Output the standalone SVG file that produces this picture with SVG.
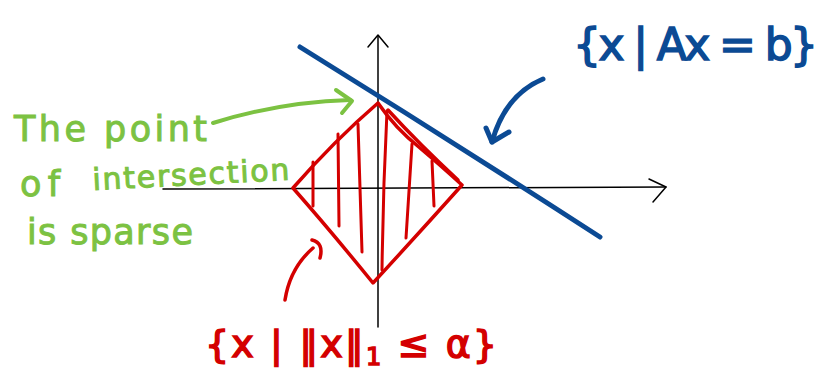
<svg xmlns="http://www.w3.org/2000/svg" width="823" height="371" viewBox="0 0 823 371">
<style>
.axis{fill:none;stroke:#000;stroke-width:1.5;stroke-linecap:round;stroke-linejoin:round}
.red{fill:none;stroke:#d40000;stroke-width:3.5;stroke-linecap:round;stroke-linejoin:round}
.hatch{fill:none;stroke:#d40000;stroke-width:3;stroke-linecap:round}
.blue{fill:none;stroke:#0b4a94;stroke-width:5;stroke-linecap:round;stroke-linejoin:round}
.green{fill:none;stroke:#7cc242;stroke-width:4;stroke-linecap:round;stroke-linejoin:round}
.gtxt{font-family:"DejaVu Sans",sans-serif;fill:#7cc242;stroke:#7cc242;stroke-width:1;font-size:35px}
.btxt{font-family:"DejaVu Sans",sans-serif;fill:#0b4a94;stroke:#0b4a94;stroke-width:1.5;font-size:44px}
.rtxt{font-family:"DejaVu Sans",sans-serif;fill:#d40000;stroke:#d40000;stroke-width:1.5;font-size:38px}
</style>
<g id="axes">
  <path class="axis" d="M163,189 L666,187"/>
  <path class="axis" d="M649,179 L666,187 L653,202"/>
  <path class="axis" d="M378,327 L378,36"/>
  <path class="axis" d="M368,47 L378,35 L388,47"/>
</g>
<g id="l1-ball">
  <path class="red" d="M378,103 Q335,140 293,188 Q330,230 373,283 Q420,232 462,185 Q440,165 420,148 Q395,128 378,103 Z"/>
  <path class="red" d="M388,110 Q420,145 458,180" stroke-width="1.2"/>
  <path class="hatch" d="M313,162 L313,206"/>
  <path class="hatch" d="M338,134 L339,226"/>
  <path class="hatch" d="M358,124 L362,252"/>
  <path class="hatch" d="M387,111 Q383,190 382,270"/>
  <path class="hatch" d="M412,144 L406,238"/>
  <path class="hatch" d="M432,161 L434,206"/>
</g>
<g id="hyperplane">
  <path class="blue" d="M300,47 Q450,140 600,237"/>
</g>
<g id="connectors">
  <path class="green" d="M213,123 Q280,102 350,100"/>
  <path class="green" d="M336,90 L352,101 L342,113"/>
  <path class="blue" d="M543,79 Q505,95 492,142"/>
  <path class="blue" d="M486,128 L492,142 L509,132"/>
  <path class="red" stroke-width="4" d="M285,300 Q290,268 313,248"/>
  <path class="red" stroke-width="4" d="M312,240 Q324,243 320,258"/>
</g>
<g id="label-sparse">
  <text class="gtxt" x="14" y="141" textLength="193" lengthAdjust="spacing">The point</text>
  <text class="gtxt" x="20" y="196" textLength="40" lengthAdjust="spacing">of</text>
  <text class="gtxt" x="93" y="190" style="font-size:30px" textLength="197" lengthAdjust="spacing" transform="rotate(-3 93 190)">intersection</text>
  <text class="gtxt" x="27" y="244" textLength="166" lengthAdjust="spacing">is sparse</text>
</g>
<g id="label-hyperplane">
  <text class="btxt" x="573" y="60" textLength="245" lengthAdjust="spacing">{x | Ax = b}</text>
</g>
<g id="label-ball">
  <text class="rtxt" x="205" y="357" textLength="292" lengthAdjust="spacing">{x | ‖x‖<tspan font-size="24" dy="8">1</tspan><tspan dy="-8"> ≤ α}</tspan></text>
</g>
</svg>
